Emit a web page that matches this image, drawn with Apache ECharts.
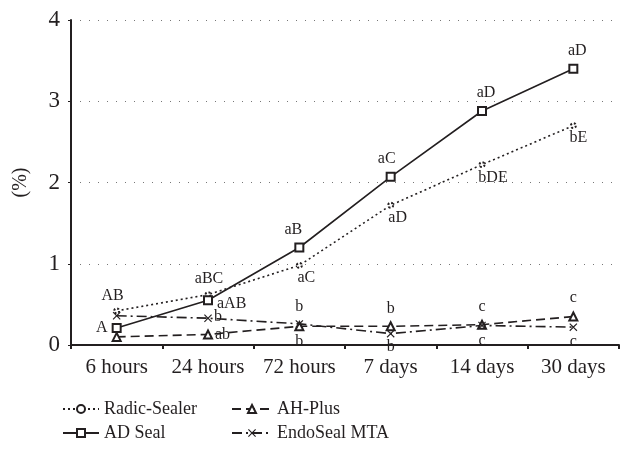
<!DOCTYPE html>
<html>
<head>
<meta charset="utf-8">
<script src="https://cdn.jsdelivr.net/npm/echarts@6/dist/echarts.min.js"></script>
<style>
  html, body { margin: 0; padding: 0; background: #fff; }
  #main { width: 632px; height: 467px; }
</style>
</head>
<body>
<div id="main"></div>
<script>
// data
const categories = ['6 hours', '24 hours', '72 hours', '7 days', '14 days', '30 days']
const seriesNames = ['Radic-Sealer', 'AD Seal', 'AH-Plus', 'EndoSeal MTA']
const radicSealer = [0.42, 0.62, 0.98, 1.72, 2.22, 2.70]
const adSeal = [0.21, 0.55, 1.20, 2.07, 2.88, 3.40]
const ahPlus = [0.10, 0.13, 0.23, 0.23, 0.25, 0.35]
const endoSeal = [0.36, 0.33, 0.26, 0.14, 0.24, 0.22]
const yTicks = [0, 1, 2, 3, 4]

// significance letters
const radicLetters = ['AB', 'aBC', 'aC', 'aD', 'bDE', 'bE']
const adLetters = ['A', 'aAB', 'aB', 'aC', 'aD', 'aD']
const ahLetters = ['', 'ab', 'b', 'b', 'c', 'c']
const endoLetters = ['', 'b', 'b', 'b', 'c', 'c']

const font = '"Liberation Serif", "DejaVu Serif", serif'
const ink = '#231f20'

// where each letter sits relative to its point
const radicPos = [['top', [-4, 0]], ['top', [1, 0]], ['bottom', [7, -3]], ['bottom', [7, -3]], ['bottom', [11, -2]], ['bottom', [5, -3]]]
const adPos = [['left', [0, 0]], ['right', [0, 3]], ['top', [-6, -1]], ['top', [-4, -1]], ['top', [4, -1]], ['top', [4, -1]]]
const ahPos = [['top', [0, 0]], ['right', [-2, 0]], ['bottom', [0, -2]], ['top', [0, -1]], ['top', [0, -1]], ['top', [0, -2]]]
const endoPos = [['top', [0, 0]], ['right', [-2, -1]], ['top', [0, -1]], ['bottom', [0, -3]], ['bottom', [0, -1]], ['bottom', [0, -1]]]

function buildData (values, letters, pos) {
  return values.map(function (v, i) {
    return {
      value: v,
      label: {
        show: letters[i] !== '',
        formatter: letters[i],
        position: pos[i][0],
        offset: pos[i][1],
        distance: 4
      }
    }
  })
}

const labelStyle = { fontFamily: font, fontSize: 16, color: ink }
const crossPath = 'path://M0,1L1,0L5,4L9,0L10,1L6,5L10,9L9,10L5,6L1,10L0,9L4,5Z'

const series = [
  {
    name: seriesNames[0],
    type: 'line',
    data: buildData(radicSealer, radicLetters, radicPos),
    symbol: 'emptyCircle',
    symbolSize: 5,
    lineStyle: { color: ink, width: 1.6, type: [2, 3] },
    itemStyle: { color: ink, borderColor: ink, borderWidth: 1, borderType: 'dotted' },
    label: labelStyle,
    z: 3
  },
  {
    name: seriesNames[1],
    type: 'line',
    data: buildData(adSeal, adLetters, adPos),
    symbol: 'emptyRect',
    symbolSize: 8,
    lineStyle: { color: ink, width: 1.6, type: 'solid' },
    itemStyle: { color: ink, borderColor: ink, borderWidth: 2 },
    label: labelStyle,
    z: 4
  },
  {
    name: seriesNames[2],
    type: 'line',
    data: buildData(ahPlus, ahLetters, ahPos),
    symbol: 'emptyTriangle',
    symbolSize: 8,
    lineStyle: { color: ink, width: 1.6, type: [9, 5] },
    itemStyle: { color: ink, borderColor: ink, borderWidth: 1.5 },
    label: labelStyle,
    z: 3
  },
  {
    name: seriesNames[3],
    type: 'line',
    data: buildData(endoSeal, endoLetters, endoPos),
    symbol: crossPath,
    symbolSize: 8,
    lineStyle: { color: ink, width: 1.6, type: [10, 4, 2, 4] },
    itemStyle: { color: ink },
    label: labelStyle,
    z: 3
  }
]

// one legend per entry so the 2x2 layout matches
const legendSpots = [[57, 395], [57, 419], [226, 395], [226, 419]]
const legends = seriesNames.map(function (n, i) {
  return {
    data: [n],
    left: legendSpots[i][0],
    top: legendSpots[i][1],
    itemWidth: i < 2 ? 36 : 40,
    itemHeight: 10,
    selectedMode: false,
    textStyle: { fontFamily: font, fontSize: 18, color: ink }
  }
})

const chart = echarts.init(document.getElementById('main'), null, { renderer: 'canvas' })
chart.setOption({
  animation: false,
  backgroundColor: '#fff',
  grid: { left: 71, right: 13, top: 20, bottom: 122 },
  legend: legends,
  xAxis: {
    type: 'category',
    data: categories,
    boundaryGap: true,
    axisLine: { lineStyle: { color: ink, width: 2 } },
    axisTick: { show: true, length: 4, interval: 0, lineStyle: { color: ink, width: 2 } },
    axisLabel: { fontFamily: font, fontSize: 21, color: ink, margin: 12, interval: 0 }
  },
  yAxis: {
    type: 'value',
    min: yTicks[0],
    max: yTicks[yTicks.length - 1],
    interval: 1,
    name: '(%)',
    nameLocation: 'middle',
    nameGap: 40,
    nameTextStyle: { fontFamily: font, fontSize: 20, color: ink },
    axisLine: { show: true, lineStyle: { color: ink, width: 2 } },
    axisTick: { show: true, length: 3, lineStyle: { color: ink, width: 1 } },
    axisLabel: { fontFamily: font, fontSize: 23, color: ink, margin: 11 },
    splitLine: { show: true, lineStyle: { color: '#777', width: 1.2, type: [1, 8] } }
  },
  series: series
})
</script>
</body>
</html>
